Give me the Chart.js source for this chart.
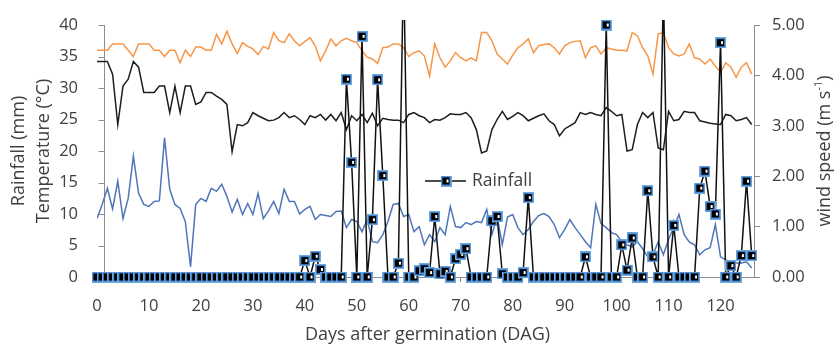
<!DOCTYPE html>
<html>
<head>
<meta charset="utf-8">
<script src="https://cdn.jsdelivr.net/npm/chart.js@4.4.0/dist/chart.umd.min.js"></script>
<style>
    html, body { margin: 0; padding: 0; background: #fff; }
    #wrap { width: 836px; height: 346px; }
</style>
</head>
<body>
<div id="wrap"><canvas id="weather-chart" width="836" height="346"></canvas></div>
<script>
// days after germination, 0..126
var days = [];
for (var d = 0; d <= 126; d++) days.push(d);

var rainfall = [
    0, 0, 0, 0, 0, 0, 0, 0, 0, 0,
    0, 0, 0, 0, 0, 0, 0, 0, 0, 0,
    0, 0, 0, 0, 0, 0, 0, 0, 0, 0,
    0, 0, 0, 0, 0, 0, 0, 0, 0, 0,
    2.6, 0, 3.3, 1.2, 0, 0, 0, 0, 31.4, 18.2,
    0, 38.2, 0, 9.1, 31.3, 16.1, 0, 0, 2.2, 50,
    0, 0, 1.0, 1.3, 0.7, 9.6, 0.5, 0.9, 0, 2.9,
    3.6, 4.5, 0, 0, 0, 0, 8.9, 9.6, 0.5, 0,
    0, 0, 0.7, 12.6, 0, 0, 0, 0, 0, 0,
    0, 0, 0, 0, 3.2, 0, 0, 0, 40, 0,
    0, 5.1, 1.1, 6.2, 0, 0, 13.7, 3.2, 0, 46,
    0, 8.2, 0, 0, 0, 0, 14.1, 16.8, 11.2, 10,
    37.2, 0, 1.8, 0, 3.4, 15.2, 3.4
];

var maxTemp = [
    36, 36, 36, 37, 37, 37, 36, 35, 37, 37,
    37, 36, 36, 35, 36, 36, 34, 36, 35, 36.5,
    36.5, 36, 36, 38.5, 37, 39, 37, 35.5, 37.2, 36.6,
    36.2, 35.3, 36.6, 36.2, 38.8, 37.5, 37.2, 38.6, 37.5, 36.7,
    37.4, 38, 36.7, 34.3, 35.9, 37.8, 36.7, 37.5, 37.9, 37.5,
    37.2, 35.9, 34.9, 34.6, 33.9, 36.4, 36.5, 37, 37, 36.4,
    35, 35.6, 35.9, 35.1, 31.9, 37, 34.8, 33.3, 34.3, 35.6,
    34.8, 34.3, 34.8, 34.3, 38.8, 38.8, 37.5, 35.4, 34.6, 33.8,
    35.2, 36.4, 37, 37.8, 35.6, 36.7, 36.9, 37, 36.4, 35.4,
    36.7, 37.2, 37.4, 37.5, 34.8, 36.4, 36.7, 35.4, 36.4, 36.2,
    36, 36, 35.9, 38.8, 38.3, 36.4, 35.1, 32.2, 38.6, 38.8,
    36.4, 35.4, 35.1, 35.4, 37, 34.8, 34.6, 33.8, 34.6, 33.5,
    32.5, 34, 33.3, 31.7, 33.3, 34, 32.2
];

var minTemp = [
    34.2, 34.2, 34.2, 32.2, 24.2, 30.3, 31.4, 34.2, 33.3, 29.3,
    29.3, 29.3, 30.3, 30.3, 26.1, 30.3, 26.1, 30.3, 30.3, 27.4,
    27.8, 29.3, 29.3, 28.7, 28.2, 27.4, 19.9, 24.2, 24, 24.5,
    26.1, 25.6, 25.2, 24.8, 24.9, 25.3, 26.1, 25.3, 25.6, 25,
    24.2, 25.6, 25.3, 25.8, 24.9, 25.8, 24.8, 26.1, 23.4, 25.6,
    24.8, 25.8, 24.5, 26, 24, 25.2, 25, 24.9, 24.9, 24.5,
    25.8, 26.1, 25.6, 25.3, 24.5, 25, 24.9, 25.3, 25.9, 25.8,
    25.8, 26.1, 25.3, 23.4, 19.7, 20, 23.4, 25, 26.3, 25,
    25.5, 26.1, 25.6, 24.8, 25.2, 25.6, 25.9, 24.8, 24.2, 22.4,
    23.5, 24, 24.5, 26.1, 25.8, 26.1, 25.8, 25.6, 26.9, 26.3,
    25.6, 25.8, 20, 20.2, 24.2, 26.1, 25.3, 26.1, 20.5, 20.2,
    26.3, 24.8, 25, 26.3, 26.1, 26.1, 24.8, 24.6, 24.4, 24.3,
    24.2, 25.8, 25.6, 24.8, 25, 25.3, 24.2
];

var windSpeed = [
    1.16, 1.44, 1.76, 1.35, 1.90, 1.16, 1.56, 2.40, 1.66, 1.44,
    1.40, 1.50, 1.51, 2.76, 1.74, 1.44, 1.36, 1.10, 0.20, 1.44,
    1.56, 1.50, 1.76, 1.70, 1.84, 1.60, 1.29, 1.54, 1.24, 1.46,
    1.24, 1.66, 1.16, 1.31, 1.50, 1.26, 1.74, 1.50, 1.50, 1.25,
    1.34, 1.40, 1.14, 1.24, 1.22, 1.20, 1.30, 1.31, 0.98, 1.14,
    1.10, 0.90, 1.14, 0.70, 0.68, 0.84, 1.10, 1.44, 1.46, 1.20,
    1.24, 0.90, 1.00, 0.64, 0.84, 0.70, 0.98, 0.84, 1.40, 1.00,
    0.98, 1.08, 1.04, 1.10, 1.08, 1.34, 0.84, 1.20, 0.64, 1.19,
    1.24, 0.98, 0.84, 0.94, 1.10, 1.22, 1.26, 1.20, 1.04, 0.78,
    0.94, 1.14, 0.98, 0.84, 0.70, 0.58, 1.44, 1.06, 0.98, 0.88,
    0.84, 0.70, 0.64, 0.60, 0.70, 0.56, 0.40, 0.44, 0.70, 0.44,
    0.75, 0.98, 1.24, 0.84, 0.69, 0.64, 0.44, 0.54, 0.58, 1.04,
    0.40, 0.34, 0.30, 0.28, 0.28, 0.30, 0.18
];

var dayTicks = [0, 10, 20, 30, 40, 50, 60, 70, 80, 90, 100, 110, 120];
var leftTicks = [0, 5, 10, 15, 20, 25, 30, 35, 40];
var rightTicks = [0, 1, 2, 3, 4, 5];

var FONT = "'Open Sans', 'DejaVu Sans', sans-serif";
var TEXT = '#404040';
var AXIS = '#8c8c8c';

function pairs(values) {
    return days.map(function (day, i) {
        return {x: day, y: values[i]};
    });
}

// square marker like the excel one: blue rim, black body, white notch
function makeMarker() {
    var c = document.createElement('canvas');
    c.width = 11;
    c.height = 11;
    var g = c.getContext('2d');
    g.fillStyle = '#6fa8dc';
    g.fillRect(0, 0, 11, 11);
    g.fillStyle = '#3d7cc9';
    g.fillRect(1, 1, 9, 9);
    g.fillStyle = '#000';
    g.fillRect(2, 2, 7, 7);
    g.fillStyle = '#fff';
    g.fillRect(6, 4, 2, 3);
    return c;
}
var marker = makeMarker();

var decorations = {
    id: 'decorations',
    beforeDatasetsDraw: function (chart) {
        var ctx = chart.ctx;
        var area = chart.chartArea;
        var ys = chart.scales.y;
        var ax = Math.round(chart.scales.x.getPixelForValue(1.3)) + 0.5;
        ctx.save();
        ctx.strokeStyle = AXIS;
        ctx.lineWidth = 1;
        ctx.beginPath();
        ctx.moveTo(ax, area.top);
        ctx.lineTo(ax, area.bottom);
        leftTicks.forEach(function (v) {
            var y = Math.round(ys.getPixelForValue(v)) + 0.5;
            ctx.moveTo(ax - 6, y);
            ctx.lineTo(ax, y);
        });
        ctx.stroke();
        ctx.restore();
    },
    afterDraw: function (chart) {
        var ctx = chart.ctx;
        var area = chart.chartArea;
        var midY = (area.top + area.bottom) / 2;
        var titleFont = '18px ' + FONT;
        ctx.save();
        ctx.fillStyle = TEXT;
        ctx.font = titleFont;
        ctx.textAlign = 'center';
        ctx.textBaseline = 'middle';

        // x title
        ctx.fillText('Days after germination (DAG)', (area.left + area.right) / 2 + 2, 335);

        // left titles
        ctx.save();
        ctx.translate(19, midY);
        ctx.rotate(-Math.PI / 2);
        ctx.fillText('Rainfall (mm)', 0, 0);
        ctx.restore();
        ctx.save();
        ctx.translate(44, midY);
        ctx.rotate(-Math.PI / 2);
        ctx.fillText('Temperature (\u00b0C)', 0, 0);
        ctx.restore();

        // right title with superscript
        ctx.save();
        ctx.translate(825, midY);
        ctx.rotate(-Math.PI / 2);
        var main = 'wind speed (m s';
        var sup = '-1';
        var close = ')';
        ctx.font = titleFont;
        var w1 = ctx.measureText(main).width;
        var w3 = ctx.measureText(close).width;
        ctx.font = '11px ' + FONT;
        var w2 = ctx.measureText(sup).width;
        var x0 = -(w1 + w2 + w3) / 2;
        ctx.textAlign = 'left';
        ctx.font = titleFont;
        ctx.fillText(main, x0, 0);
        ctx.font = '11px ' + FONT;
        ctx.fillText(sup, x0 + w1, -6);
        ctx.font = titleFont;
        ctx.fillText(close, x0 + w1 + w2, 0);
        ctx.restore();

        // legend
        var ly = 181;
        ctx.strokeStyle = '#111';
        ctx.lineWidth = 1.5;
        ctx.beginPath();
        ctx.moveTo(425, ly);
        ctx.lineTo(466, ly);
        ctx.stroke();
        ctx.drawImage(marker, 446 - 5.5, ly - 5.5);
        ctx.textAlign = 'left';
        ctx.font = '17.5px ' + FONT;
        ctx.fillText('Rainfall', 472, ly);
        ctx.restore();
    }
};

new Chart(document.getElementById('weather-chart'), {
    type: 'line',
    data: {
        datasets: [{
            label: 'Rainfall',
            data: pairs(rainfall),
            yAxisID: 'y',
            borderColor: '#111',
            borderWidth: 1.5,
            pointStyle: marker,
            pointRadius: 5,
            tension: 0,
            order: 0,
            clip: {left: 8, right: 8, top: 5, bottom: 8}
        }, {
            label: 'Max temperature',
            data: pairs(maxTemp),
            yAxisID: 'y',
            borderColor: '#f79646',
            borderWidth: 1.5,
            pointRadius: 0,
            tension: 0,
            order: 1
        }, {
            label: 'Min temperature',
            data: pairs(minTemp),
            yAxisID: 'y',
            borderColor: '#1e1e1e',
            borderWidth: 1.5,
            pointRadius: 0,
            tension: 0,
            order: 2
        }, {
            label: 'Wind speed',
            data: pairs(windSpeed),
            yAxisID: 'y1',
            borderColor: '#4f76b9',
            borderWidth: 1.5,
            pointRadius: 0,
            tension: 0,
            order: 3
        }]
    },
    options: {
        responsive: false,
        animation: false,
        devicePixelRatio: 1,
        layout: {padding: {top: 25, left: 0, right: 0, bottom: 0}},
        plugins: {
            legend: {display: false},
            tooltip: {enabled: false}
        },
        scales: {
            x: {
                type: 'linear',
                min: 0,
                max: 126.44,
                afterBuildTicks: function (axis) {
                    axis.ticks = dayTicks.map(function (v) { return {value: v}; });
                },
                afterFit: function (axis) { axis.height = 69; },
                ticks: {
                    color: TEXT,
                    font: {family: FONT, size: 16.5},
                    padding: 14,
                    maxRotation: 0,
                    autoSkip: false
                },
                grid: {drawOnChartArea: false, drawTicks: true, tickLength: 5, color: AXIS},
                border: {display: true, color: AXIS}
            },
            y: {
                position: 'left',
                min: 0,
                max: 40,
                afterBuildTicks: function (axis) {
                    axis.ticks = leftTicks.map(function (v) { return {value: v}; });
                },
                afterFit: function (axis) { axis.width = 97; },
                ticks: {
                    color: TEXT,
                    font: {family: FONT, size: 16.5},
                    padding: 11
                },
                grid: {display: false},
                border: {display: false}
            },
            y1: {
                position: 'right',
                min: 0,
                max: 5,
                afterBuildTicks: function (axis) {
                    axis.ticks = rightTicks.map(function (v) { return {value: v}; });
                },
                afterFit: function (axis) { axis.width = 82; },
                ticks: {
                    color: TEXT,
                    font: {family: FONT, size: 16.5},
                    padding: 12,
                    callback: function (v) { return Number(v).toFixed(2); }
                },
                grid: {drawOnChartArea: false, drawTicks: true, tickLength: 6, color: AXIS},
                border: {display: true, color: AXIS}
            }
        }
    },
    plugins: [decorations]
});
</script>
</body>
</html>
